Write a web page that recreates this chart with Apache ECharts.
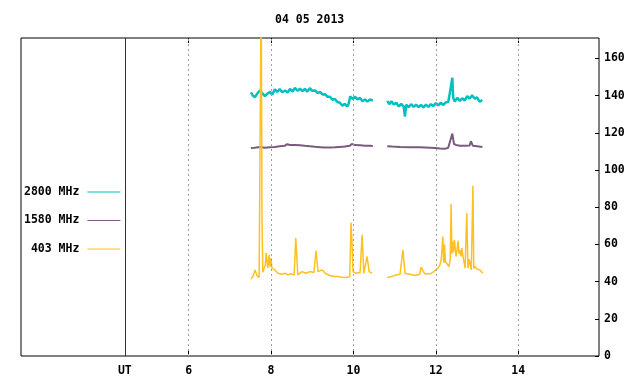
<!DOCTYPE html>
<html>
<head>
<meta charset="utf-8">
<style>
	html, body { margin: 0; padding: 0; background: #fff; }
	#chart { width: 640px; height: 384px; }
</style>
<script src="https://cdn.jsdelivr.net/npm/echarts@6/dist/echarts.min.js"></script>
</head>
<body>
<div id="chart"></div>
<script>
// hours (UT) and flux values; null = no data (gap)
var t2800 = [7.51,7.56,7.61,7.66,7.73,7.79,7.85,7.91,7.97,8.03,8.09,8.15,8.21,8.27,8.34,8.40,8.46,8.52,8.58,8.64,8.70,8.76,8.82,8.88,8.94,9.00,9.07,9.13,9.19,9.25,9.31,9.37,9.43,9.49,9.55,9.61,9.67,9.73,9.79,9.85,9.88,9.92,9.98,10.04,10.10,10.16,10.22,10.28,10.34,10.40,10.47,
	10.65,
	10.82,10.87,10.92,10.98,11.04,11.10,11.16,11.22,11.25,11.28,11.34,11.40,11.46,11.52,11.58,11.64,11.70,11.76,11.82,11.88,11.94,12.00,12.06,12.12,12.18,12.24,12.30,12.34,12.40,12.42,12.46,12.52,12.58,12.64,12.70,12.76,12.82,12.88,12.94,13.00,13.06,13.13];
var v2800 = [141.8,140.0,139.2,141.0,142.8,141.2,139.8,141.0,142.0,140.6,143.4,142.0,143.6,141.8,142.8,141.6,143.6,142.2,144.2,142.6,143.8,142.4,143.6,142.2,144.0,142.6,142.8,141.4,142.0,140.6,140.8,139.4,139.4,137.8,138.2,136.6,136.2,134.6,135.6,134.2,135.4,139.6,138.2,139.4,138.0,138.8,137.0,137.9,136.8,137.9,137.4,
	null,
	137.2,135.4,137.0,135.2,136.2,134.2,135.6,134.0,128.8,135.2,133.8,135.4,134.0,135.2,133.8,135.0,133.6,135.2,134.0,135.4,134.4,136.0,134.8,136.2,135.0,136.4,136.6,141.5,149.6,139.0,136.8,138.8,137.2,138.6,137.4,139.8,138.4,140.2,138.4,139.0,136.8,137.6];

var t1580 = [7.51,7.60,7.73,7.85,7.97,8.09,8.21,8.33,8.39,8.46,8.58,8.70,8.82,8.94,9.07,9.19,9.31,9.43,9.55,9.67,9.79,9.91,9.96,10.04,10.16,10.28,10.40,10.47,
	10.65,
	10.82,10.94,11.13,11.37,11.61,11.86,11.98,12.10,12.22,12.30,12.34,12.40,12.44,12.49,12.58,12.70,12.82,12.85,12.90,13.00,13.13];
var v1580 = [111.8,112.0,112.4,112.0,112.2,112.4,112.8,113.0,113.9,113.5,113.4,113.3,113.0,112.8,112.5,112.3,112.1,112.1,112.2,112.4,112.6,113.1,114.0,113.4,113.3,113.1,113.0,112.9,
	null,
	112.8,112.6,112.4,112.3,112.2,112.0,111.9,111.6,111.4,112.0,112.8,119.6,114.0,113.5,113.1,113.0,113.2,115.5,113.0,112.8,112.4];

var t403 = [7.51,7.56,7.61,7.66,7.71,7.74,7.76,7.78,7.80,7.83,7.86,7.88,7.92,7.95,7.97,8.00,8.02,8.09,8.17,8.26,8.34,8.41,8.48,8.56,8.60,8.65,8.75,8.85,8.94,9.04,9.09,9.14,9.24,9.33,9.43,9.53,9.62,9.72,9.82,9.91,9.94,9.96,9.99,10.06,10.16,10.21,10.25,10.33,10.38,10.45,
	10.65,
	10.82,10.93,11.03,11.13,11.20,11.25,11.37,11.49,11.61,11.64,11.73,11.86,11.95,12.05,12.10,12.13,12.15,12.17,12.19,12.21,12.23,12.27,12.32,12.35,12.37,12.39,12.41,12.43,12.45,12.49,12.52,12.54,12.56,12.58,12.61,12.63,12.66,12.71,12.75,12.78,12.81,12.83,12.86,12.90,12.92,12.95,13.00,13.07,13.14];
var v403 = [41.5,42.7,46.3,43.1,42.2,43.0,200,73.3,45.0,45.4,49.0,55.3,47.2,54.4,48.0,52.6,47.2,46.3,44.5,44.0,44.5,43.6,44.2,43.6,63.4,43.6,45.4,44.5,45.4,44.9,56.6,45.4,46.3,44.2,43.3,42.7,42.7,42.4,42.2,42.6,71.8,63.4,45.4,44.5,44.9,65.2,44.5,53.5,45.4,44.5,
	null,
	42.2,42.7,43.6,44.0,57.1,44.5,44.0,43.3,44.0,47.8,44.2,44.2,45.4,47.2,49.0,52.0,57.5,64.3,50.0,60.0,50.8,49.9,48.1,52.0,81.9,55.0,61.6,56.0,62.5,53.5,58.0,62.0,55.0,57.1,53.5,58.0,53.5,47.2,76.9,47.2,52.0,51.7,46.3,91.6,47.0,48.1,46.8,46.3,44.5];

var gridHours = [6, 8, 10, 12, 14];
var utHour = 4.45;
var xLabels = [4.45, 6, 8, 10, 12, 14];

var FONT = '"DejaVu Sans Mono", "Liberation Mono", monospace';

function pairs(t, v) {
	return t.map(function (x, i) { return [x, v[i] == null ? '-' : v[i]]; });
}

var chart = echarts.init(document.getElementById('chart'), null, { renderer: 'canvas' });

var option = {
	animation: false,
	backgroundColor: '#fff',
	title: {
		text: '04 05 2013',
		left: 270,
		top: 9,
		textStyle: { fontFamily: FONT, fontSize: 11.5, fontWeight: 'bold', color: '#000' }
	},
	legend: {
		orient: 'vertical',
		left: 19,
		top: 180,
		align: 'right',
		itemGap: 14.5,
		itemWidth: 33,
		itemHeight: 1,
		icon: 'rect',
		selectedMode: false,
		data: ['2800 MHz', '1580 MHz', '403 MHz'],
		formatter: function (name) { return name.length < 8 ? ' ' + name : name; },
		textStyle: { fontFamily: FONT, fontSize: 11.5, fontWeight: 'bold', color: '#000', lineHeight: 14, padding: [0, 3, 0, 0] }
	},
	grid: {
		left: 21, right: 41, top: 38, bottom: 28,
		show: true, borderColor: '#000', borderWidth: 1, backgroundColor: 'transparent'
	},
	xAxis: [
		{
			type: 'value', min: 1.93, max: 15.96, position: 'bottom',
			axisLine: { show: false },
			axisTick: { show: true, inside: true, length: 5, customValues: gridHours, lineStyle: { color: '#000' } },
			axisLabel: {
				customValues: xLabels, margin: 9,
				formatter: function (v) { return v === utHour ? '{ut|UT}' : String(v); },
				rich: { ut: { fontFamily: FONT, fontSize: 11.5, fontWeight: 'bold', color: '#000', padding: [0, 0, 6, 0] } },
				fontFamily: FONT, fontSize: 11.5, fontWeight: 'bold', color: '#000'
			},
			splitLine: { show: false }
		},
		{
			type: 'value', min: 1.93, max: 15.96, position: 'top',
			axisLine: { show: false },
			axisTick: { show: true, inside: true, length: 5, customValues: gridHours, lineStyle: { color: '#000' } },
			axisLabel: { show: false },
			splitLine: { show: false }
		}
	],
	yAxis: {
		type: 'value', min: 0, max: 171, interval: 20, position: 'right',
		axisLine: { show: false },
		axisTick: { show: true, inside: true, length: 4, lineStyle: { color: '#000' } },
		axisLabel: { showMaxLabel: false, margin: 5, fontFamily: FONT, fontSize: 11.5, fontWeight: 'bold', color: '#000' },
		splitLine: { show: false }
	},
	series: [
		{
			name: '2800 MHz', type: 'line', xAxisIndex: 0,
			showSymbol: false, symbol: 'none', connectNulls: false,
			lineStyle: { width: 2.5, color: '#00c0c0' }, itemStyle: { color: '#00c0c0' },
			markLine: {
				silent: true, symbol: 'none', label: { show: false }, animation: false,
				data: gridHours.map(function (h) {
					return { xAxis: h, lineStyle: { type: [2, 3], color: '#a0a0a0', width: 1 } };
				}).concat([{ xAxis: utHour, lineStyle: { type: 'solid', color: '#a00000', width: 1 } }])
			},
			data: pairs(t2800, v2800)
		},
		{
			name: '1580 MHz', type: 'line', xAxisIndex: 0,
			showSymbol: false, symbol: 'none', connectNulls: false,
			lineStyle: { width: 2, color: '#7a5a7e' }, itemStyle: { color: '#7a5a7e' },
			data: pairs(t1580, v1580)
		},
		{
			name: '403 MHz', type: 'line', xAxisIndex: 0,
			showSymbol: false, symbol: 'none', connectNulls: false,
			lineStyle: { width: 1.5, color: '#ffc020' }, itemStyle: { color: '#ffc020' },
			data: pairs(t403, v403)
		}
	]
};

chart.setOption(option);
</script>
</body>
</html>
